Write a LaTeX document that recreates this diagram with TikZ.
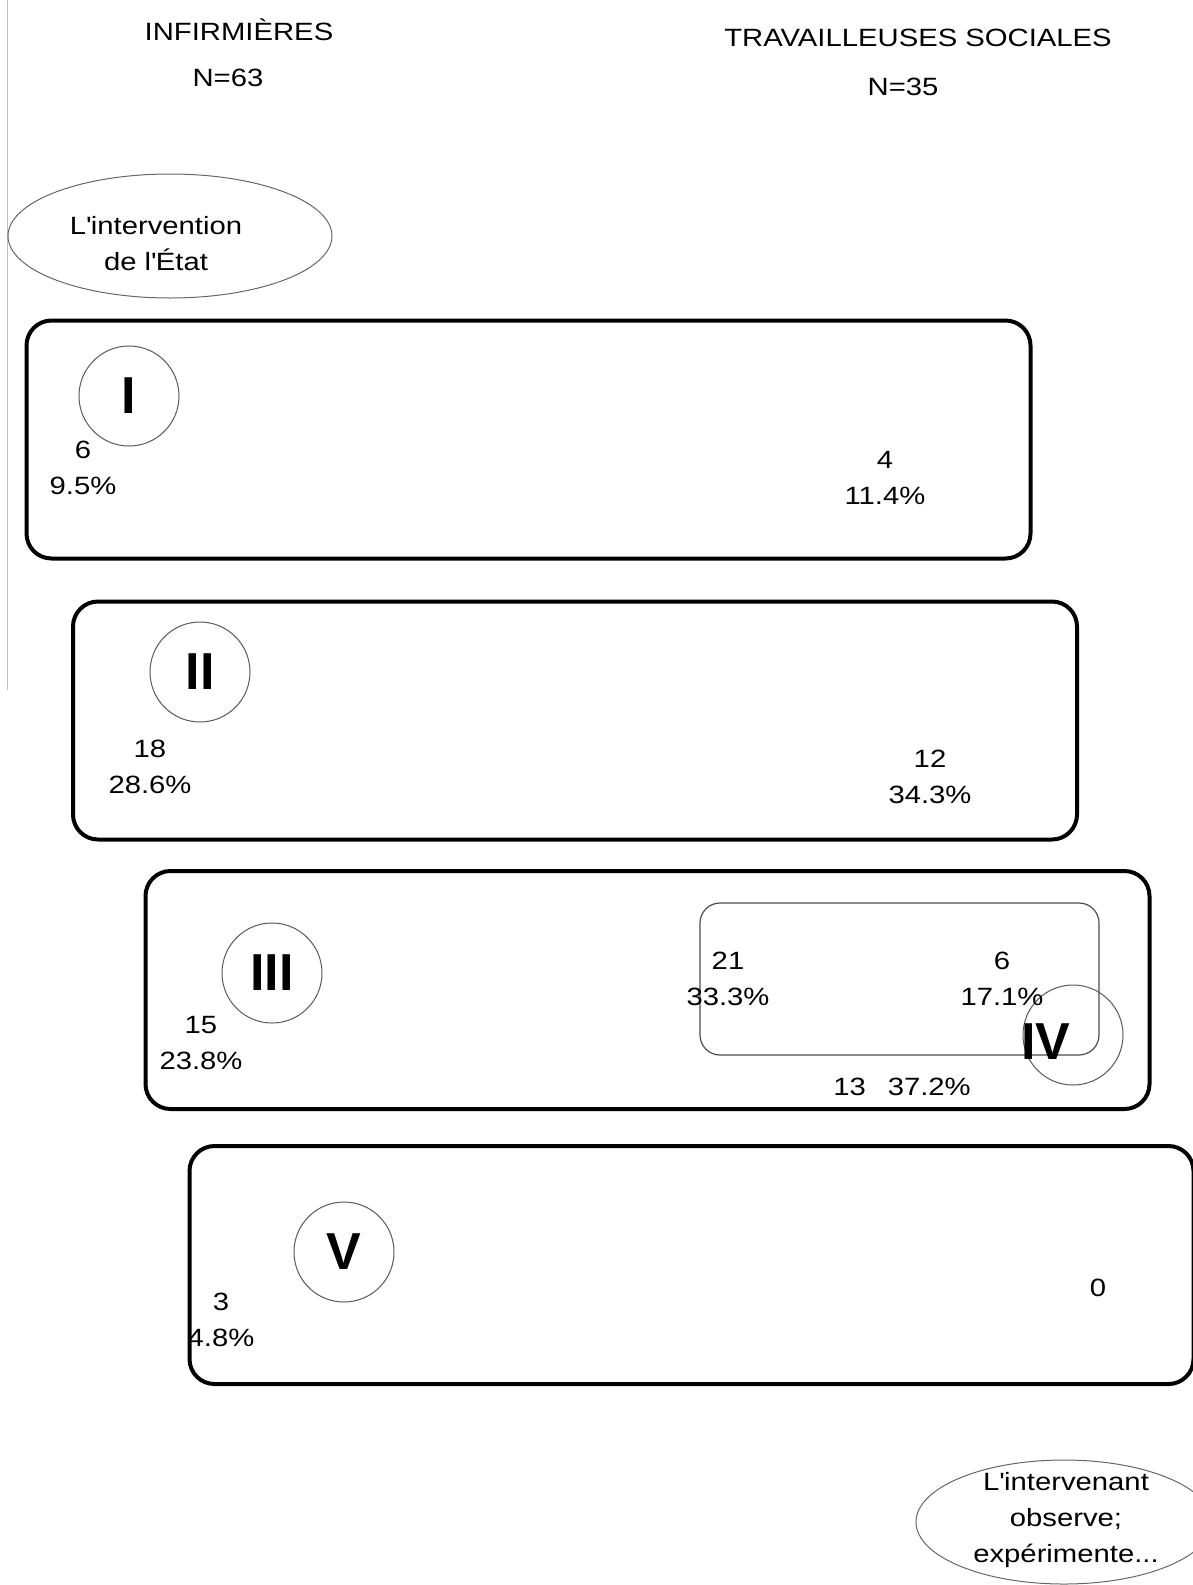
\documentclass[tikz,border=0pt]{standalone}
\usepackage{fontspec}
\setmainfont{Liberation Sans}[FakeStretch=1.17]
\newfontfamily\romfont{Liberation Sans}
\usetikzlibrary{shapes.geometric}
\begin{document}
\begin{tikzpicture}[x=0.5pt, y=-0.5pt,
        every node/.style={font=\fontsize{12.5}{18}\selectfont, align=center, inner sep=0pt},
        band/.style={rectangle, draw, line width=2pt, rounded corners=12.5pt, minimum width=502pt, minimum height=119pt},
        souszone/.style={rectangle, draw=black!70, line width=0.6pt, rounded corners=10pt, minimum width=199.5pt, minimum height=76pt},
        pastille/.style={circle, draw=black!65, line width=0.5pt, minimum size=50pt},
        numeral/.style={font=\romfont\bfseries\fontsize{26}{26}\selectfont},
        bulle/.style={ellipse, draw=black!60, line width=0.5pt}]

        \useasboundingbox (0,0) rectangle (1193,1585);
        \clip (0,0) rectangle (1193,1585);
        \draw[black!25, line width=0.5pt] (7,0) -- (7,690);

        % titres
        \node (infirm) at (239,30) {INFIRMIÈRES};
        \node (ninf) at (228,78) {N=63};
        \node (travail) at (918,38) {TRAVAILLEUSES SOCIALES};
        \node (ntrav) at (903,87) {N=35};

        % pole du haut
        \node [bulle, minimum width=162pt, minimum height=62pt] (etat) at (170,236) {};
        \node (etattxt) at (156,244) {L\textquotesingle intervention\\de l\textquotesingle État};

        % bandes
        \node [band] (bandI) at (528.5,439.5) {};
        \node [band] (bandII) at (575,720.5) {};
        \node [band] (bandIII) at (647.5,990) {};
        \node [band] (bandV) at (691.5,1265) {};
        \node [souszone] (zoneIV) at (899.5,979) {};

        % numeros
        \node [pastille, numeral] (cI) at (129,396) {I};
        \node [pastille, numeral] (cII) at (200,672) {II};
        \node [pastille, numeral] (cIII) at (272,973) {III};
        \node [pastille] (cIV) at (1073,1035) {};
        \node [numeral] (tIV) at (1046,1042) {IV};
        \node [pastille, numeral] (cV) at (344,1252) {V};

        % effectifs
        \node (infI) at (83,468) {6\\9.5\%};
        \node (travI) at (885,478) {4\\11.4\%};
        \node (infII) at (150,767) {18\\28.6\%};
        \node (travII) at (930,777) {12\\34.3\%};
        \node (infIII) at (201,1043) {15\\23.8\%};
        \node (infIV) at (728,979) {21\\33.3\%};
        \node (travIV) at (1002,979) {6\\17.1\%};
        \node (travIII) at (902,1087) {13\hspace{11pt}37.2\%};
        \node (infV) at (221,1320) {3\\4.8\%};
        \node (travV) at (1098,1288) {0};

        % pole du bas
        \node [bulle, minimum width=148pt, minimum height=62pt] (interv) at (1064,1522) {};
        \node (intervtxt) at (1066,1520) {L\textquotesingle intervenant\\observe;\\expérimente...};
    \end{tikzpicture}
\end{document}
